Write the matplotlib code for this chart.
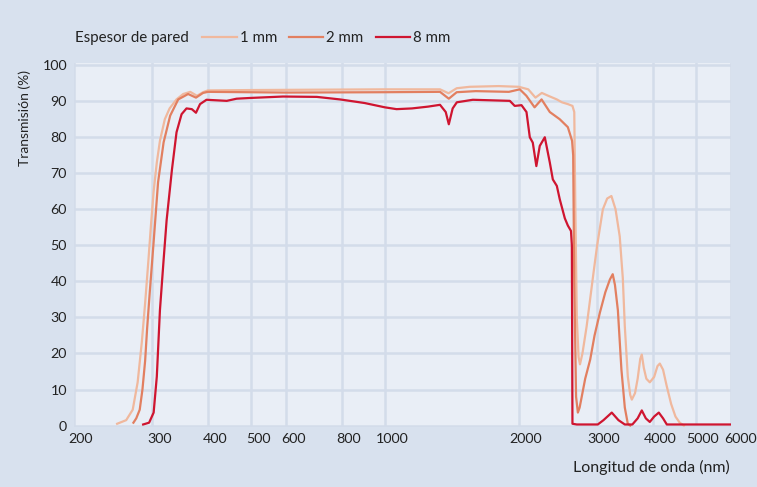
#importing libraries
import matplotlib.pyplot as plt
import matplotlib.transforms as mtransforms
from matplotlib.ticker import NullLocator

plt.rcParams['font.family'] = ['Lato', 'DejaVu Sans']

#wavelength (nm) and transmission (%) for each wall thickness
wl_1mm = [250, 262, 271, 278, 284, 289, 294, 298, 302, 307, 312, 320, 328, 340, 352, 365, 378, 390, 400,
          500, 700, 1000, 1330, 1390, 1450, 1550, 1800, 2000, 2100, 2180, 2253, 2330, 2435, 2500, 2578,
          2640, 2665, 2680, 2700, 2725, 2745, 2780, 2841, 2945, 3000, 3090, 3160, 3230, 3300, 3372, 3402,
          3426, 3462, 3516, 3560, 3590, 3650, 3700, 3750, 3780, 3820, 3870, 3940, 4030, 4100, 4150, 4220,
          4300, 4400, 4500, 4600, 4700]
t_1mm = [0.5, 1.5, 4.4, 12, 23, 34, 46, 56, 65, 73, 79, 85, 88, 90.5, 92, 92.6, 91.5, 92.5, 93,
         93.1, 93.2, 93.3, 93.3, 92.2, 93.6, 94, 94.2, 94, 93.3, 91, 92.3, 91.5, 90.5, 89.7, 89.2,
         88.7, 87, 60, 30, 19, 17, 20, 27.5, 42.5, 50, 60, 63, 63.7, 60, 52.5, 46,
         41, 27.5, 13.6, 8.5, 7.2, 9, 13, 18.5, 19.7, 16, 13, 12, 13.5, 16.5, 17.2, 15.5,
         11, 6, 2.5, 0.8, 0]

wl_2mm = [272, 276, 281, 285, 289, 292, 296, 302, 309, 318, 329, 343, 361, 376, 390, 400, 600, 1000,
          1330, 1392, 1450, 1600, 1900, 2010, 2080, 2170, 2250, 2348, 2472, 2578, 2635, 2650, 2665,
          2690, 2715, 2740, 2760, 2820, 2894, 2960, 3044, 3130, 3204, 3252, 3290, 3340, 3402, 3462,
          3516, 3560]
t_2mm = [0.8, 2, 4.4, 10, 18, 27, 37, 51, 67.5, 78.6, 86, 90.5, 92, 91, 92.3, 92.6, 92.4, 92.5,
         92.6, 90.7, 92.5, 92.8, 92.6, 93.3, 91.5, 88.3, 90.5, 87, 85, 82.8, 79, 75, 40,
         8, 3.6, 5, 7, 13, 18.3, 25, 31.4, 37, 40.5, 42, 39, 32, 15.5, 5,
         0.5, 0]

wl_8mm = [286, 295, 302, 307, 312, 318, 323, 332, 340, 349, 358, 368, 376, 384, 397, 441, 464, 497,
          590, 703, 792, 834, 900, 1000, 1062, 1150, 1250, 1330, 1370, 1392, 1420, 1451, 1576, 1909,
          1958, 2028, 2081, 2117, 2150, 2190, 2229, 2288, 2348, 2385, 2435, 2472, 2538, 2578, 2620,
          2632, 2640, 2700, 3010, 3100, 3236, 3350, 3462, 3600, 3700, 3780, 3860, 3940, 4030, 4128,
          4220, 4303, 6000]
t_8mm = [0.3, 0.8, 3.6, 13.6, 32, 46, 57, 71, 81.4, 86.4, 88, 87.8, 86.8, 89.2, 90.4, 90.1, 90.7, 90.9,
         91.3, 91.2, 90.5, 90.1, 89.5, 88.3, 87.8, 88, 88.5, 89, 87, 83.6, 88, 89.7, 90.4, 90.1,
         88.7, 88.9, 87, 80, 78.5, 72, 77.6, 80, 73, 68.3, 66.5, 62.8, 57.5, 55.5, 54,
         50, 0.5, 0.3, 0.3, 1.5, 3.6, 1.5, 0.3, 0.3, 2, 4.2, 2, 1, 2.5, 3.6,
         2, 0.3, 0.3]

x_ticks = [200, 300, 400, 500, 600, 800, 1000, 2000, 3000, 4000, 5000, 6000]
y_ticks = [0, 10, 20, 30, 40, 50, 60, 70, 80, 90, 100]

#figure and axes
fig = plt.figure(figsize=(7.57, 4.87), dpi=100, facecolor='#d8e1ee')
ax = fig.add_axes([0.0978, 0.1232, 0.8679, 0.7474], facecolor='#e9eef6')

ax.plot(wl_1mm, t_1mm, color='#f0b89d', lw=1.6, label='1 mm')
ax.plot(wl_2mm, t_2mm, color='#e27f60', lw=1.6, label='2 mm')
ax.plot(wl_8mm, t_8mm, color='#cf1530', lw=1.6, label='8 mm')

ax.set_xscale('log')
ax.set_xlim(200, 6000)
ax.set_ylim(-0.4, 100.6)
ax.set_xticks(x_ticks)
ax.set_xticklabels([str(t) for t in x_ticks])
ax.xaxis.set_minor_locator(NullLocator())
ax.set_yticks(y_ticks)
ax.tick_params(length=0, labelsize=10.3, colors='#222222')
ax.tick_params(axis='x', pad=4)
ax.tick_params(axis='y', pad=5)
for s in ax.spines.values():
    s.set_visible(False)
ax.grid(True, color='#d3dcea', lw=1.8)
ax.set_axisbelow(True)

#x tick labels sit a little to the right of their grid lines in the original
for lbl, t in zip(ax.get_xticklabels(), x_ticks):
    dx = 10 if t == 6000 else 7
    shift = mtransforms.ScaledTranslation(dx / 100, 0, fig.dpi_scale_trans)
    lbl.set_transform(lbl.get_transform() + shift)

#labels and legend
fig.text(25 / 757, 1 - 118 / 487, 'Transmisión (%)', rotation=90, ha='center', va='center',
         fontsize=10, color='#222222')
fig.text(730 / 757, 1 - 467 / 487, 'Longitud de onda (nm)', ha='right', va='center',
         fontsize=11.5, color='#222222')
fig.text(75 / 757, 1 - 38 / 487, 'Espesor de pared', ha='left', va='center',
         fontsize=10.8, color='#222222')
fig.legend(loc='center left', bbox_to_anchor=(202 / 757, 1 - 38 / 487), ncol=3, frameon=False,
           fontsize=10.8, handlelength=2.3, handletextpad=0.2, columnspacing=0.8,
           borderpad=0, borderaxespad=0, labelcolor='#222222')

plt.savefig('out.png', dpi=100, facecolor=fig.get_facecolor())
